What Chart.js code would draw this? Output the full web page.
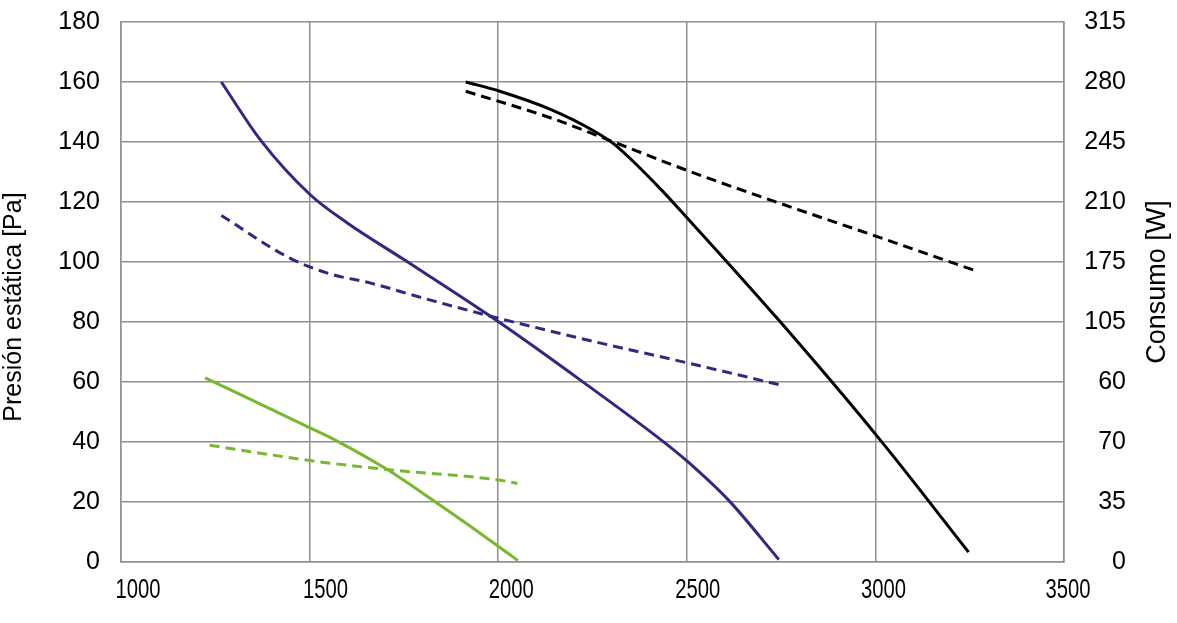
<!DOCTYPE html>
<html>
<head>
<meta charset="utf-8">
<script src="https://cdn.jsdelivr.net/npm/chart.js@4.4.1/dist/chart.umd.min.js"></script>
<style>
  body { margin: 0; background: #fff; }
</style>
</head>
<body>
<canvas id="fanChart" width="1177" height="623"></canvas>
<script>
// Caudal [m3/h] vs presión estática [Pa] (líneas continuas)
const greenFlow = [1223, 1501, 1573, 1706, 1830, 2002, 2052];
const greenPressure = [61.4, 44.7, 40.3, 30.8, 20.3, 5.1, 0.5];
const blueFlow = [1266, 1369, 1501, 1600, 1750, 1998, 2228, 2436, 2501, 2613, 2744];
const bluePressure = [160, 140.8, 122.5, 113, 100.8, 80.3, 59.7, 40.3, 33.6, 20.3, 0.8];
const blackFlow = [1914, 2002, 2140, 2255, 2308, 2423, 2501, 2746, 3012, 3247];
const blackPressure = [160, 157, 150.8, 143.6, 139.2, 125.3, 114.7, 80.3, 40.8, 3.3];

// Consumo [W] (líneas discontinuas, eje derecho)
const greenPowerFlow = [1235, 1501, 1706, 2002, 2051];
const greenPower = [68.1, 59.2, 53.9, 47.8, 45.8];
const bluePowerFlow = [1266, 1449, 1555, 1660, 1800, 1971, 2250, 2501, 2751];
const bluePower = [202.1, 177.1, 168, 162.8, 154, 143.9, 128.8, 116.2, 103.1];
const blackPowerFlow = [1914, 2140, 2290, 2501, 2795, 3001, 3260];
const blackPower = [274.6, 259, 246.4, 228.4, 205.6, 190.1, 170.3];

// etiquetas tal como aparecen en el original
const flowTicks = [1000, 1500, 2000, 2500, 3000, 3500];
const powerTicks = ['0', '35', '70', '60', '105', '175', '210', '245', '280', '315'];

const GREEN = '#77b82e';
const BLUE = '#2f2a80';
const BLACK = '#000000';
const GRID = '#8f8f8f';
const FONT = '"Liberation Sans", Arial, sans-serif';

function pts(xs, ys) {
  return xs.map((x, i) => ({x: x, y: ys[i]}));
}

function series(xs, ys, color, axis, dashed) {
  return {
    data: pts(xs, ys),
    yAxisID: axis,
    borderColor: color,
    borderWidth: 3,
    borderDash: dashed ? [10, 6] : [],
    pointRadius: 0,
    showLine: true,
    fill: false,
    cubicInterpolationMode: 'monotone'
  };
}

// títulos de ejes y etiquetas del eje X (fuente estrecha, algo desplazadas como en el original)
const labelShift = [17, 16, 13, 11, 8, 4];

const extraText = {
  id: 'extraText',
  afterDraw(chart) {
    const ctx = chart.ctx;
    const xScale = chart.scales.x;

    ctx.save();
    ctx.font = '27px ' + FONT;
    ctx.fillStyle = '#000';
    ctx.textAlign = 'center';
    ctx.textBaseline = 'alphabetic';
    flowTicks.forEach((v, i) => {
      const px = xScale.getPixelForValue(v) + labelShift[i];
      ctx.save();
      ctx.translate(px, 598);
      ctx.scale(0.75, 1);
      ctx.fillText(String(v), 0, 0);
      ctx.restore();
    });
    ctx.restore();

    ctx.save();
    ctx.font = '25px ' + FONT;
    ctx.fillStyle = '#000';
    ctx.textAlign = 'center';
    ctx.textBaseline = 'middle';
    ctx.translate(14, 307);
    ctx.rotate(-Math.PI / 2);
    ctx.fillText('Presión estática [Pa]', 0, 0);
    ctx.restore();

    ctx.save();
    ctx.font = '27px ' + FONT;
    ctx.fillStyle = '#000';
    ctx.textAlign = 'center';
    ctx.textBaseline = 'middle';
    ctx.translate(1158, 282);
    ctx.rotate(-Math.PI / 2);
    ctx.fillText('Consumo [W]', 0, 0);
    ctx.restore();
  }
};

function noPad(scale) {
  scale.paddingTop = 0;
  scale.paddingBottom = 0;
}

const ctx = document.getElementById('fanChart').getContext('2d');
new Chart(ctx, {
  type: 'scatter',
  data: {
    datasets: [
      series(greenFlow, greenPressure, GREEN, 'y', false),
      series(greenPowerFlow, greenPower, GREEN, 'y1', true),
      series(blueFlow, bluePressure, BLUE, 'y', false),
      series(bluePowerFlow, bluePower, BLUE, 'y1', true),
      series(blackFlow, blackPressure, BLACK, 'y', false),
      series(blackPowerFlow, blackPower, BLACK, 'y1', true)
    ]
  },
  options: {
    responsive: false,
    animation: false,
    layout: { padding: { top: 22, right: 51, left: 0, bottom: 0 } },
    plugins: {
      legend: { display: false },
      tooltip: { enabled: false }
    },
    scales: {
      x: {
        type: 'linear',
        min: 1000,
        max: 3500,
        ticks: { stepSize: 500, display: false },
        grid: { color: GRID, lineWidth: 1.5, drawTicks: false },
        border: { color: GRID, width: 1.5 },
        afterFit(scale) { scale.height = 61; scale.paddingLeft = 0; scale.paddingRight = 0; }
      },
      y: {
        position: 'left',
        min: 0,
        max: 180,
        ticks: {
          stepSize: 20,
          color: '#000',
          padding: 21,
          font: { family: FONT, size: 25 }
        },
        grid: { color: GRID, lineWidth: 1.5, drawTicks: false },
        border: { color: GRID, width: 1.5 },
        afterFit(scale) { scale.width = 121; noPad(scale); }
      },
      y1: {
        position: 'right',
        min: 0,
        max: 315,
        ticks: {
          stepSize: 35,
          color: '#000',
          crossAlign: 'far',
          font: { family: FONT, size: 25 },
          callback: (value, index) => powerTicks[index]
        },
        grid: { display: false, drawTicks: false },
        border: { color: GRID, width: 1.5 },
        afterFit(scale) { scale.width = 62; noPad(scale); }
      }
    }
  },
  plugins: [extraText]
});
</script>
</body>
</html>
